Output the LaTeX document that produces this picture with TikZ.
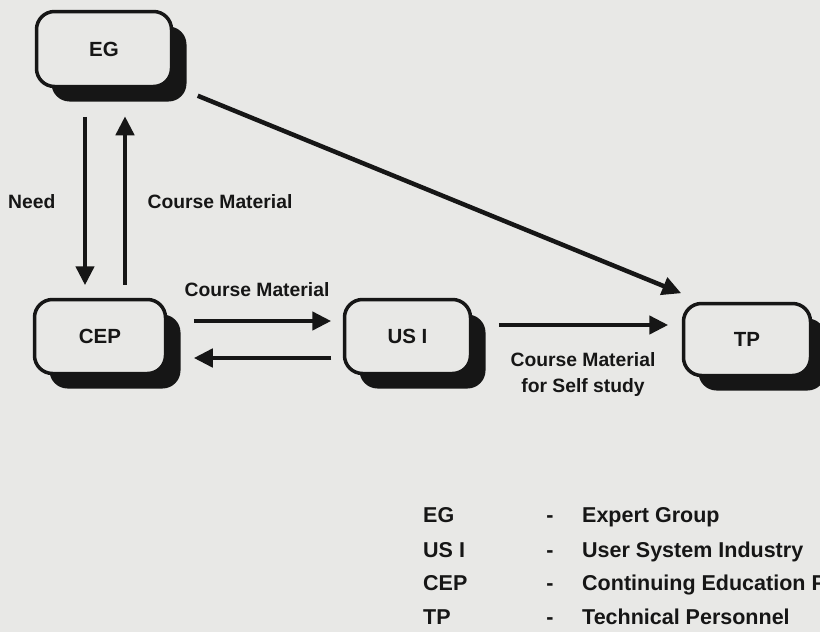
\documentclass[tikz,border=0pt]{standalone}
\usepackage{fontspec}
\setmainfont{Liberation Sans}
\usetikzlibrary{arrows.meta,shadows}
\definecolor{paper}{RGB}{232,232,230}
\definecolor{ink}{RGB}{22,22,22}
\begin{document}
\begin{tikzpicture}[x=1pt,y=-1pt,
  entity/.style={draw=ink, line width=3.5pt, rounded corners=18pt, fill=paper,
    minimum width=130pt, minimum height=74pt, inner sep=0pt, text=ink,
    font=\fontsize{20.5}{24}\selectfont\bfseries,
    drop shadow={shadow xshift=15pt, shadow yshift=-15pt, fill=ink, opacity=1}},
  flow/.style={draw=ink, line width=4.5pt, -{Triangle[length=19pt,width=18pt]}},
  lbl/.style={font=\fontsize{19.3}{26}\selectfont\bfseries, text=ink, inner sep=0pt, align=center},
  key/.style={font=\fontsize{21.5}{26}\selectfont\bfseries, text=ink, inner sep=0pt, anchor=base west}]
\clip (0,0) rectangle (820,632);
\fill[paper] (0,0) rectangle (820,632);

% organisations
\node[entity, minimum width=135pt, minimum height=75pt] (EG) at (104,49) {EG};
\node[entity, minimum width=131pt] (CEP) at (100,336.5) {CEP};
\node[entity, minimum width=126pt] (USI) at (407.5,336.5) {US I};
\node[entity, minimum width=127pt, minimum height=72pt] (TP) at (747,339.5) {TP};

% flows
\draw[flow] ([xshift=-19pt,yshift=-28.5pt]EG.south) -- ([xshift=-15pt,yshift=12.5pt]CEP.north);
\draw[flow] ([xshift=25pt,yshift=13pt]CEP.north) -- ([xshift=21pt,yshift=-28pt]EG.south);
\draw[flow] ([xshift=26.5pt,yshift=15.5pt]CEP.east) -- ([xshift=-11.5pt,yshift=15.5pt]USI.west);
\draw[flow] ([xshift=-11.5pt,yshift=-21.5pt]USI.west) -- ([xshift=26.5pt,yshift=-21.5pt]CEP.east);
\draw[flow] ([xshift=24.5pt,yshift=-7.5pt]EG.south east) -- ([xshift=-0.5pt,yshift=8.5pt]TP.north west);
\draw[flow] ([xshift=26.5pt,yshift=11.5pt]USI.east) -- ([xshift=-13.5pt,yshift=14.5pt]TP.west);

% flow labels
\node[lbl, anchor=west] (lneed) at (8,202) {Need};
\node[lbl] (lup) at (220,202) {Course Material};
\node[lbl] (lright) at (257,290) {Course Material};
\node[lbl] (lself) at (583,375) {Course Material\\for Self study};

% key
\node[key] (k1a) at (423,522) {EG};
\node[key] (k2a) at (423,557) {US I};
\node[key] (k3a) at (423,590) {CEP};
\node[key] (k4a) at (423,624) {TP};
\node[key, anchor=base] (k1b) at (550,522) {-};
\node[key, anchor=base] (k2b) at (550,557) {-};
\node[key, anchor=base] (k3b) at (550,590) {-};
\node[key, anchor=base] (k4b) at (550,624) {-};
\node[key] (k1c) at (582,522) {Expert Group};
\node[key] (k2c) at (582,557) {User System Industry};
\node[key] (k3c) at (582,590) {Continuing Education Programme};
\node[key] (k4c) at (582,624) {Technical Personnel};
\end{tikzpicture}
\end{document}
